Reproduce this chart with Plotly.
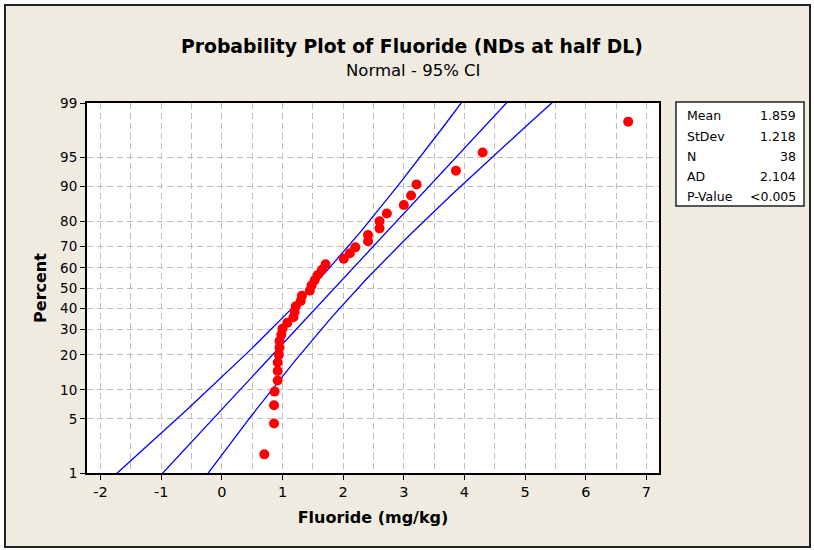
import plotly.graph_objects as go
from statistics import NormalDist

# Fluoride values (mg/kg), sorted
fluoride = [0.70, 0.86, 0.86, 0.87, 0.92, 0.92, 0.92, 0.94, 0.95, 0.95,
            0.98, 1.00, 1.08, 1.18, 1.20, 1.22, 1.30, 1.32, 1.45, 1.48,
            1.53, 1.58, 1.65, 1.71, 2.01, 2.11, 2.20, 2.41, 2.41, 2.60,
            2.60, 2.72, 3.00, 3.12, 3.21, 3.86, 4.30, 6.70]

stat_names = ['Mean', 'StDev', 'N', 'AD', 'P-Value']
stat_values = ['1.859', '1.218', '38', '2.104', '<0.005']
mean = 1.859
stdev = 1.218
n = 38

pct_ticks = [1, 5, 10, 20, 30, 40, 50, 60, 70, 80, 90, 95, 99]
x_ticks = [-2, -1, 0, 1, 2, 3, 4, 5, 6, 7]

nd = NormalDist()

# median rank plotting positions (Benard), as Minitab does
pct = [(i - 0.3) / (n + 0.4) for i in range(1, n + 1)]
zpts = [nd.inv_cdf(p) for p in pct]

# fitted line and 95% CI for percentiles
zgrid = [-2.8 + k * 0.05 for k in range(113)]
fit = [mean + stdev * z for z in zgrid]
hw = [1.96 * stdev * ((1 + z * z / 2) / n) ** 0.5 for z in zgrid]
lo = [f - h for f, h in zip(fit, hw)]
hi = [f + h for f, h in zip(fit, hw)]

FONT = 'Tahoma, DejaVu Sans, sans-serif'

fig = go.Figure()
for xs in (lo, fit, hi):
    fig.add_trace(go.Scatter(x=xs, y=zgrid, mode='lines',
                             line=dict(color='#0000FF', width=1.3), hoverinfo='skip'))
fig.add_trace(go.Scatter(x=fluoride, y=zpts, mode='markers',
                         marker=dict(color='#FF0000', size=10)))

# plot area in pixels
L, R, T, B = 87, 659, 103, 473
W, H = R - L, B - T


def px(x):
    return (x - L) / W


def py(y):
    return (B - y) / H


shapes = [
    dict(type='rect', xref='paper', yref='paper', layer='below',
         x0=px(5), x1=px(810), y0=py(547), y1=py(5),
         fillcolor='#EFEBE1', line=dict(color='#222222', width=2)),
    dict(type='rect', xref='paper', yref='paper', layer='below',
         x0=0, x1=1, y0=0, y1=1, fillcolor='white', line=dict(width=0)),
    dict(type='rect', xref='paper', yref='paper',
         x0=px(676), x1=px(804), y0=py(206), y1=py(102),
         fillcolor='white', line=dict(color='#222222', width=1.5)),
]


def label(text, x, y, size, xanchor='center'):
    return dict(text=text, x=px(x), y=py(y), xref='paper', yref='paper',
                xanchor=xanchor, yanchor='middle', showarrow=False,
                font=dict(size=size, color='black', family=FONT))


annotations = [
    label('<b>Probability Plot of Fluoride (NDs at half DL)</b>', 412, 46, 18.8),
    label('Normal - 95% CI', 413, 70, 16.5),
]
for k, (nm, val) in enumerate(zip(stat_names, stat_values)):
    annotations.append(label(nm, 685, 116 + k * 20, 12.5, 'left'))
    annotations.append(label(val, 798, 116 + k * 20, 12.5, 'right'))

fig.update_layout(
    width=814, height=550,
    margin=dict(l=L, r=814 - R, t=T, b=550 - B),
    paper_bgcolor='white', plot_bgcolor='white',
    showlegend=False,
    shapes=shapes, annotations=annotations,
    font=dict(family=FONT, color='black'),
)

GRID = '#BDBDBD'
grid = dict(showgrid=True, gridcolor=GRID, gridwidth=1, griddash='6px,4px')

fig.update_xaxes(range=[-2.224, 7.208], tickvals=x_ticks,
                 ticktext=[str(v) for v in x_ticks],
                 ticks='outside', ticklen=5, tickcolor='black',
                 showline=True, linecolor='black', linewidth=2, mirror=True,
                 zeroline=False, tickfont=dict(size=14.5),
                 minor=dict(dtick=0.5, tick0=0, showgrid=True, gridcolor=GRID,
                            griddash='6px,4px', ticks=''),
                 title=dict(text='<b>Fluoride (mg/kg)</b>', font=dict(size=16), standoff=12),
                 **grid)
fig.update_yaxes(range=[nd.inv_cdf(0.01), nd.inv_cdf(0.99)],
                 tickvals=[nd.inv_cdf(p / 100) for p in pct_ticks],
                 ticktext=[str(p) for p in pct_ticks],
                 ticks='outside', ticklen=5, tickcolor='black',
                 showline=True, linecolor='black', linewidth=2, mirror=True,
                 zeroline=False, tickfont=dict(size=13.5),
                 title=dict(text='<b>Percent</b>', font=dict(size=16), standoff=10),
                 **grid)

fig.write_html("out.html", config={'displayModeBar': False},
               post_script="document.body.style.margin='0';")
